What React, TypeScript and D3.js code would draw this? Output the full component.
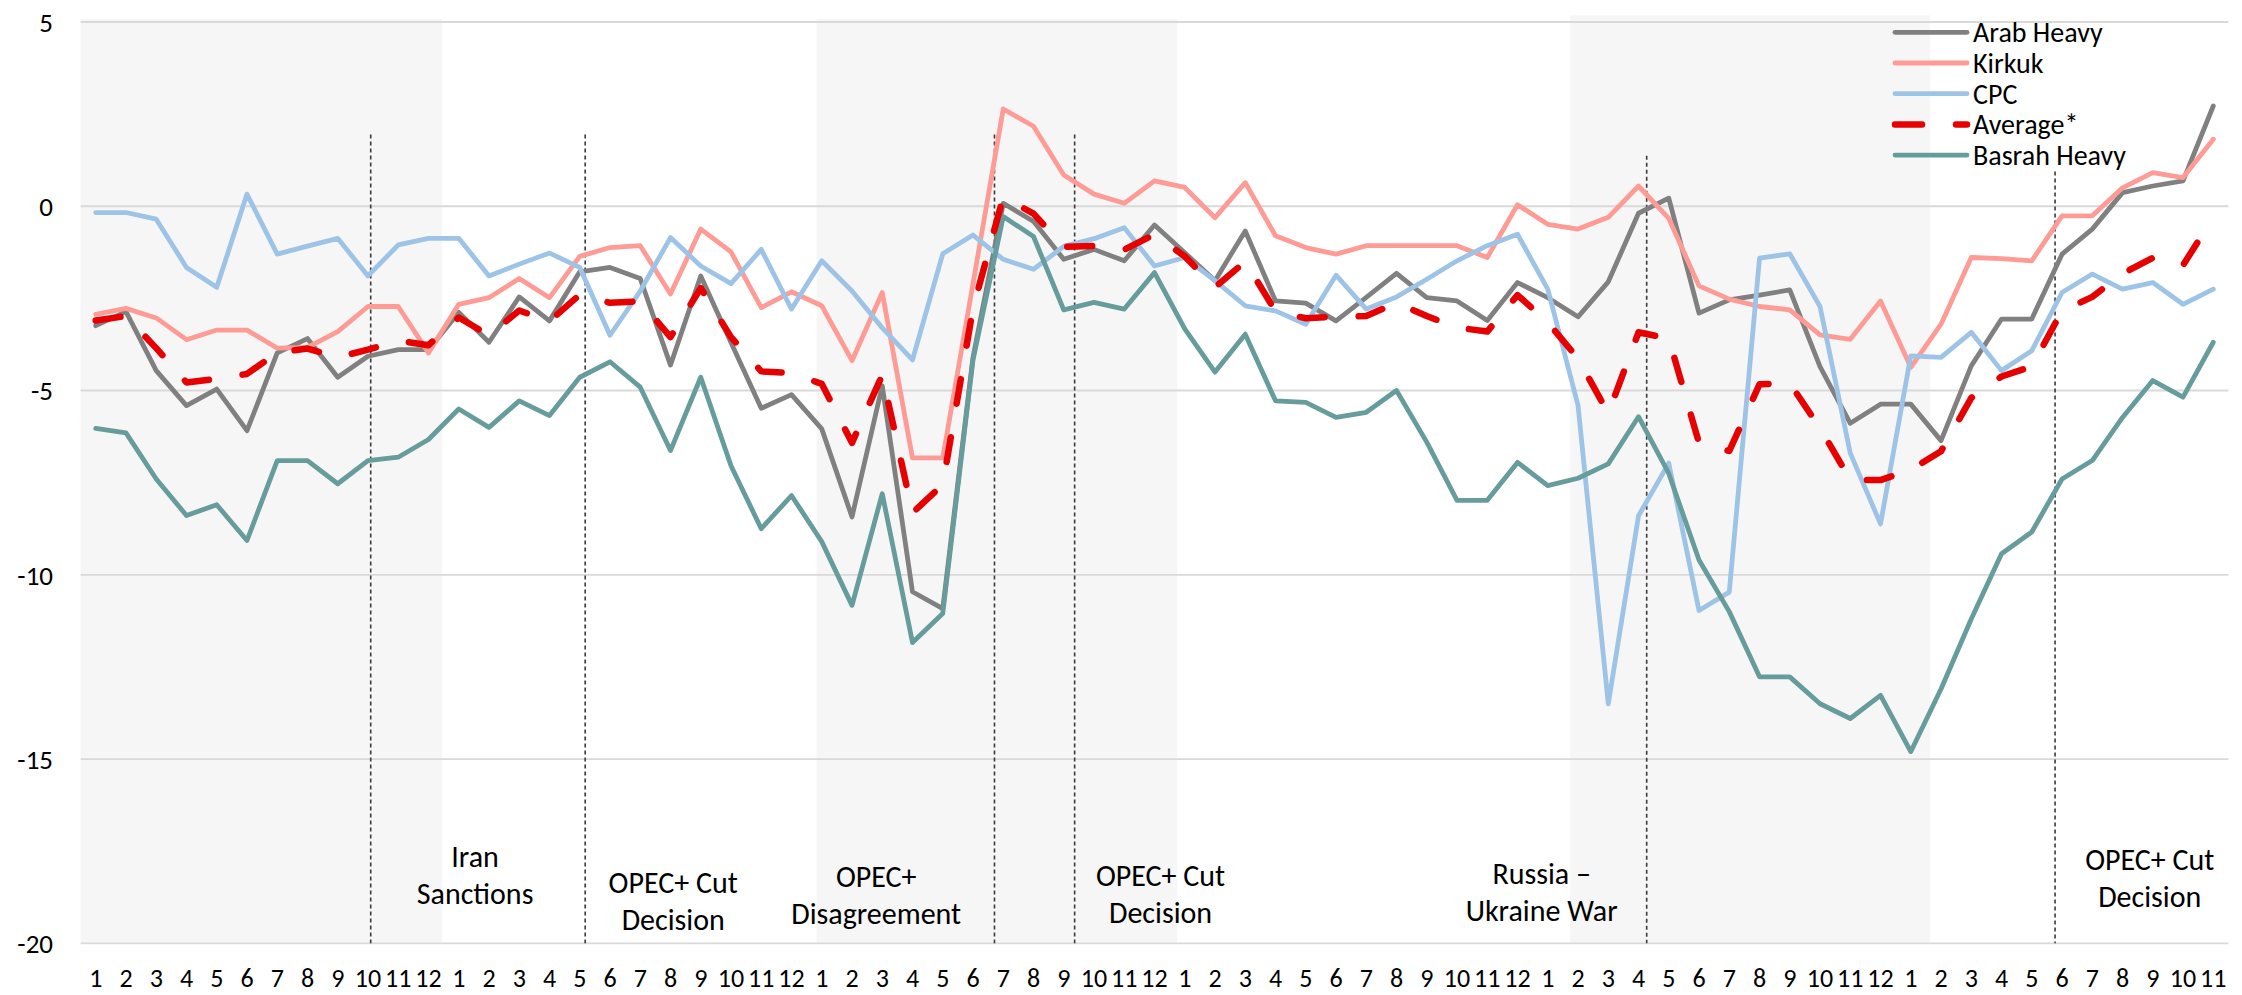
import React from "react";
import * as d3 from "d3";

// month labels on the category axis (Jan 2018 .. Nov 2023)
const monthLabels = (
  "1 2 3 4 5 6 7 8 9 10 11 12 " +
  "1 2 3 4 5 6 7 8 9 10 11 12 " +
  "1 2 3 4 5 6 7 8 9 10 11 12 " +
  "1 2 3 4 5 6 7 8 9 10 11 12 " +
  "1 2 3 4 5 6 7 8 9 10 11 12 " +
  "1 2 3 4 5 6 7 8 9 10 11"
).split(" ");

const yTicks = [5, 0, -5, -10, -15, -20];

const arabHeavy = [
  -3.24, -2.86, -4.46, -5.41, -4.96, -6.09, -3.98, -3.59, -4.64, -4.07, -3.89, -3.89,
  -2.88, -3.69, -2.46, -3.11, -1.78, -1.66, -1.96, -4.31, -1.89, -3.7, -5.48, -5.11,
  -6.04, -8.43, -4.87, -10.46, -10.92, -4.1, 0.08, -0.41, -1.44, -1.17, -1.48, -0.51,
  -1.26, -2.02, -0.67, -2.57, -2.63, -3.11, -2.47, -1.82, -2.48, -2.57, -3.1, -2.07,
  -2.48, -3.0, -2.05, -0.19, 0.22, -2.9, -2.54, -2.41, -2.27, -4.35, -5.89, -5.37,
  -5.37, -6.36, -4.33, -3.06, -3.06, -1.3, -0.62, 0.37, 0.55, 0.69, 2.72,
];

const kirkuk = [
  -2.93, -2.77, -3.03, -3.62, -3.36, -3.36, -3.85, -3.83, -3.4, -2.72, -2.72, -3.98,
  -2.66, -2.48, -1.96, -2.48, -1.36, -1.12, -1.07, -2.38, -0.62, -1.24, -2.75, -2.32,
  -2.7, -4.19, -2.34, -6.83, -6.83, -2.1, 2.64, 2.17, 0.85, 0.33, 0.08, 0.69,
  0.51, -0.31, 0.64, -0.8, -1.12, -1.3, -1.07, -1.07, -1.07, -1.07, -1.39, 0.04,
  -0.49, -0.62, -0.3, 0.55, -0.33, -2.16, -2.52, -2.72, -2.81, -3.49, -3.61, -2.57,
  -4.37, -3.2, -1.39, -1.42, -1.48, -0.26, -0.26, 0.5, 0.91, 0.78, 1.82,
];

const cpc = [
  -0.17, -0.17, -0.35, -1.66, -2.2, 0.33, -1.3, -1.08, -0.87, -1.89, -1.05, -0.87,
  -0.87, -1.89, -1.57, -1.27, -1.66, -3.5, -2.3, -0.85, -1.62, -2.1, -1.17, -2.79,
  -1.48, -2.3, -3.3, -4.17, -1.29, -0.78, -1.44, -1.71, -1.09, -0.88, -0.58, -1.62,
  -1.39, -2.02, -2.7, -2.84, -3.2, -1.87, -2.79, -2.46, -1.98, -1.48, -1.07, -0.76,
  -2.25, -5.4, -13.5, -8.4, -6.97, -10.97, -10.47, -1.41, -1.29, -2.72, -6.7, -8.62,
  -4.06, -4.1, -3.42, -4.46, -3.92, -2.34, -1.84, -2.25, -2.07, -2.66, -2.25,
];

const average = [
  -3.1, -2.98, -3.85, -4.78, -4.68, -4.55, -3.97, -3.86, -4.1, -3.89, -3.65, -3.77,
  -3.02, -3.5, -2.83, -3.12, -2.4, -2.62, -2.58, -3.55, -2.22, -3.55, -4.48, -4.53,
  -4.82, -6.42, -4.58, -8.32, -7.55, -2.77, 0.25, -0.2, -1.1, -1.08, -1.18, -0.76,
  -1.36, -2.2, -1.5, -2.85, -3.04, -2.99, -2.98, -2.62, -2.98, -3.29, -3.4, -2.41,
  -3.15, -4.13, -5.62, -3.42, -3.59, -6.42, -6.64, -4.83, -4.8, -6.02, -7.42, -7.43,
  -7.15, -6.65, -5.2, -4.62, -4.35, -2.84, -2.46, -1.83, -1.4, -1.6, -0.3,
];

const basrahHeavy = [
  -6.03, -6.15, -7.4, -8.39, -8.1, -9.07, -6.9, -6.9, -7.53, -6.9, -6.81, -6.33,
  -5.5, -6.0, -5.28, -5.68, -4.64, -4.22, -4.91, -6.63, -4.64, -7.04, -8.75, -7.85,
  -9.1, -10.83, -7.8, -11.84, -11.05, -4.17, -0.28, -0.82, -2.81, -2.61, -2.79, -1.8,
  -3.33, -4.5, -3.47, -5.28, -5.32, -5.73, -5.59, -5.0, -6.4, -7.98, -7.98, -6.95,
  -7.58, -7.38, -6.99, -5.71, -7.25, -9.6, -11.0, -12.77, -12.77, -13.5, -13.9, -13.27,
  -14.8, -13.1, -11.2, -9.43, -8.84, -7.4, -6.9, -5.73, -4.73, -5.18, -3.69,
];

// grey background bands (category index start/end, top value)
const bands = [
  { from: -0.5, to: 11.45, top: 5.08 },
  { from: 23.83, to: 35.75, top: 5.08 },
  { from: 48.74, to: 60.64, top: 5.18 },
];

// event markers (category index, top value)
const events = [
  { at: 9.09, top: 1.95 },
  { at: 16.18, top: 1.95 },
  { at: 29.71, top: 1.95 },
  { at: 32.36, top: 1.95 },
  { at: 51.27, top: 1.37 },
  { at: 64.77, top: 0.94 },
];

const notes = [
  { at: 12.54, v: -17.63, lines: ["Iran", "Sanctions"] },
  { at: 19.09, v: -18.33, lines: ["OPEC+ Cut", "Decision"] },
  { at: 25.8, v: -18.17, lines: ["OPEC+", "Disagreement"] },
  { at: 35.2, v: -18.14, lines: ["OPEC+ Cut", "Decision"] },
  { at: 47.8, v: -18.09, lines: ["Russia –", "Ukraine War"] },
  { at: 67.9, v: -17.73, lines: ["OPEC+ Cut", "Decision"] },
];

const series = [
  { name: "Arab Heavy", values: arabHeavy, color: "#808080", dashed: false },
  { name: "Kirkuk", values: kirkuk, color: "#ff9b95", dashed: false },
  { name: "CPC", values: cpc, color: "#9dc3e6", dashed: false },
  { name: "Average*", values: average, color: "#e60000", dashed: true },
  { name: "Basrah Heavy", values: basrahHeavy, color: "#669c9c", dashed: false },
];

const FONT = "Carlito, Lato, 'Liberation Sans', sans-serif";

export default function App() {
  const width = 2242;
  const height = 995;
  const left = 80.6;
  const right = 2228.4;
  const top = 22;
  const bottom = 943.3;

  const x = d3.scaleLinear().domain([-0.5, monthLabels.length - 0.5]).range([left, right]);
  const y = d3.scaleLinear().domain([-20, 5]).range([bottom, top]);

  const line = d3
    .line<number>()
    .x((_, i) => x(i))
    .y((d) => y(d));

  // red dashed line drawn last, on top
  const drawOrder = [0, 1, 2, 4, 3].map((k) => series[k]);

  return (
    <svg
      width={width}
      height={height}
      style={{ position: "absolute", left: 0, top: 0, background: "#fff" }}
      fontFamily={FONT}
    >
      {bands.map((b, k) => (
        <rect
          key={k}
          x={x(b.from)}
          y={y(b.top)}
          width={x(b.to) - x(b.from)}
          height={y(-20) - y(b.top)}
          fill="#f6f6f6"
        />
      ))}

      {yTicks.map((t) => (
        <g key={t}>
          <line x1={left} x2={right} y1={y(t)} y2={y(t)} stroke="#d9d9d9" strokeWidth={1.8} />
          <text x={53} y={y(t)} dy="0.36em" textAnchor="end" fontSize={27} fill="#000">
            {t}
          </text>
        </g>
      ))}

      {monthLabels.map((m, i) => (
        <text key={i} x={x(i)} y={987} textAnchor="middle" fontSize={26} fill="#000">
          {m}
        </text>
      ))}

      {events.map((e, k) => (
        <line
          key={k}
          x1={x(e.at)}
          x2={x(e.at)}
          y1={y(e.top)}
          y2={y(-20)}
          stroke="#3a3a3a"
          strokeWidth={1.6}
          strokeDasharray="4 3"
        />
      ))}

      {notes.map((n, k) => (
        <text key={k} x={x(n.at)} y={y(n.v)} textAnchor="middle" fontSize={30} fill="#000">
          {n.lines.map((l, j) => (
            <tspan key={j} x={x(n.at)} dy={j === 0 ? "0.36em" : 37}>
              {l}
            </tspan>
          ))}
        </text>
      ))}

      {drawOrder.map((s) => (
        <path
          key={s.name}
          d={line(s.values) || ""}
          fill="none"
          stroke={s.color}
          strokeWidth={s.dashed ? 6.5 : 4.8}
          strokeLinejoin="round"
          strokeLinecap="round"
          strokeDasharray={s.dashed ? "25 34" : undefined}
        />
      ))}

      <g transform="translate(1895,32.3)">
        {series.map((s, k) => (
          <g key={s.name} transform={`translate(0,${k * 30.7})`}>
            <line
              x1={0}
              x2={72}
              y1={0}
              y2={0}
              stroke={s.color}
              strokeWidth={s.dashed ? 6.5 : 4.8}
              strokeLinecap="round"
              strokeDasharray={s.dashed ? "27 34" : undefined}
            />
            <text x={78} y={0} dy="0.36em" fontSize={28} fill="#000">
              {s.name}
            </text>
          </g>
        ))}
      </g>
    </svg>
  );
}
